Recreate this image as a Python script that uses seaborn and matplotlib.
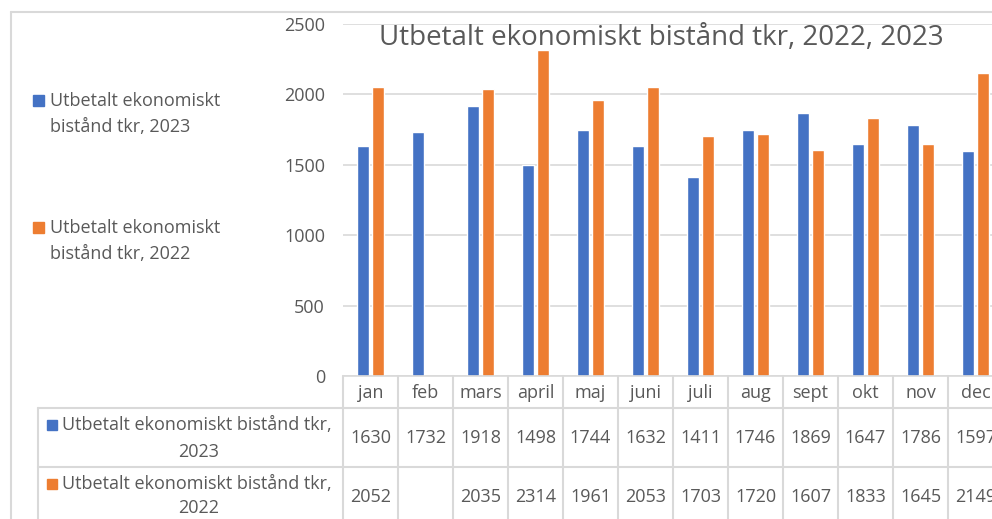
import matplotlib
matplotlib.use("Agg")
import matplotlib.pyplot as plt
from matplotlib.lines import Line2D
from matplotlib.patches import Rectangle
import seaborn as sns
import pandas as pd
import numpy as np

months = ["jan", "feb", "mars", "april", "maj", "juni", "juli", "aug", "sept", "okt", "nov", "dec"]
vals_2023 = [1630, 1732, 1918, 1498, 1744, 1632, 1411, 1746, 1869, 1647, 1786, 1597]
vals_2022 = [2052, np.nan, 2035, 2314, 1961, 2053, 1703, 1720, 1607, 1833, 1645, 2149]
series_names = ["Utbetalt ekonomiskt bistånd tkr, 2023", "Utbetalt ekonomiskt bistånd tkr, 2022"]
colors = ["#4472C4", "#ED7D31"]
title = "Utbetalt ekonomiskt bistånd tkr, 2022, 2023"
yticks = [0, 500, 1000, 1500, 2000, 2500]

df = pd.DataFrame({
    "month": months * 2,
    "value": vals_2023 + vals_2022,
    "series": [series_names[0]] * 12 + [series_names[1]] * 12,
})

sns.set_theme(style="white")
plt.rcParams["font.family"] = ["Open Sans", "DejaVu Sans"]
TXT = "#595959"
GRID = "#D9D9D9"
FS = 13

W, H = 992, 519
fig = plt.figure(figsize=(W / 100, H / 100), dpi=100)

def fx(px):
    return px / W

def fy(py):
    return 1 - py / H

ax_l, ax_r, ax_t, ax_b = 343, 1003, 24, 376
ax = fig.add_axes([fx(ax_l), fy(ax_b), (ax_r - ax_l) / W, (ax_b - ax_t) / H])

sns.barplot(data=df, x="month", y="value", hue="series", order=months,
            hue_order=series_names, palette=colors, width=0.55, gap=0.2,
            saturation=1, ax=ax, legend=False)

ax.set_xlim(-0.5, 11.5)
ax.set_ylim(0, 2500)
ax.set_yticks(yticks)
ax.set_yticklabels([str(v) for v in yticks], fontsize=FS, color=TXT)
ax.tick_params(axis="y", length=0, pad=13)
ax.set_xticks([])
ax.set_xlabel("")
ax.set_ylabel("")
for s in ["top", "right", "left"]:
    ax.spines[s].set_visible(False)
ax.spines["bottom"].set_color(GRID)
ax.spines["bottom"].set_linewidth(1.2)
ax.yaxis.grid(True, color=GRID, linewidth=1.2)
ax.set_axisbelow(True)

# Title
fig.text(fx(661), fy(38), title, ha="center", va="center", fontsize=20, color=TXT)

# Outer chart border
fig.add_artist(Line2D([fx(11), fx(11)], [fy(12), 0], color=GRID, lw=1.5))
fig.add_artist(Line2D([fx(11), 1], [fy(12), fy(12)], color=GRID, lw=1.5))

# Left legend
leg_rows = [(101, 127), (228, 254)]
for (y1, y2), name, c in zip(leg_rows, series_names, colors):
    fig.add_artist(Rectangle((fx(33), fy(y1 + 5)), 11 / W, 11 / H, color=c,
                             transform=fig.transFigure))
    fig.text(fx(50), fy(y1), "Utbetalt ekonomiskt", ha="left", va="center",
             fontsize=FS, color=TXT)
    fig.text(fx(50), fy(y2), name.replace("Utbetalt ekonomiskt ", ""), ha="left",
             va="center", fontsize=FS, color=TXT)

# Data table
axh = ax_b - ax_t
def ay(py):
    return (ax_b - py) / axh

def axx(px):
    return (px - ax_l) / (ax_r - ax_l)

row1_top, row2_top, tbl_bot = 408, 467, 525
blend = ax.get_xaxis_transform()
for i in range(13):
    ax.add_line(Line2D([i - 0.5, i - 0.5], [0, ay(tbl_bot)], transform=blend,
                       color=GRID, lw=1.5, clip_on=False))
for yy in (row1_top, row2_top):
    ax.add_line(Line2D([axx(38), 1.2], [ay(yy), ay(yy)], transform=ax.transAxes,
                       color=GRID, lw=1.5, clip_on=False))
ax.add_line(Line2D([axx(38), axx(38)], [ay(row1_top), ay(tbl_bot)],
                   transform=ax.transAxes, color=GRID, lw=1.5, clip_on=False))

for i, m in enumerate(months):
    ax.text(i, ay(393), m, transform=blend, ha="center", va="center",
            fontsize=FS, color=TXT, clip_on=False)

row_centers = [(425, 452, 438), (484, 508, 497)]
for (l1, l2, vc), name, c, vals in zip(row_centers, series_names, colors,
                                         [vals_2023, vals_2022]):
    ax.add_patch(Rectangle((axx(47), ay(l1 + 5)), 10 / (ax_r - ax_l), 10 / axh,
                           color=c, transform=ax.transAxes, clip_on=False))
    ax.text(axx(62), ay(l1), name.rsplit(" ", 1)[0], transform=ax.transAxes,
            ha="left", va="center", fontsize=FS, color=TXT, clip_on=False)
    ax.text(axx(199), ay(l2), name.rsplit(" ", 1)[1], transform=ax.transAxes,
            ha="center", va="center", fontsize=FS, color=TXT, clip_on=False)
    for i, v in enumerate(vals):
        if not np.isnan(v):
            ax.text(i, ay(vc), f"{int(v)}", transform=blend, ha="center",
                    va="center", fontsize=FS, color=TXT, clip_on=False)

fig.savefig("out.png", dpi=100)
